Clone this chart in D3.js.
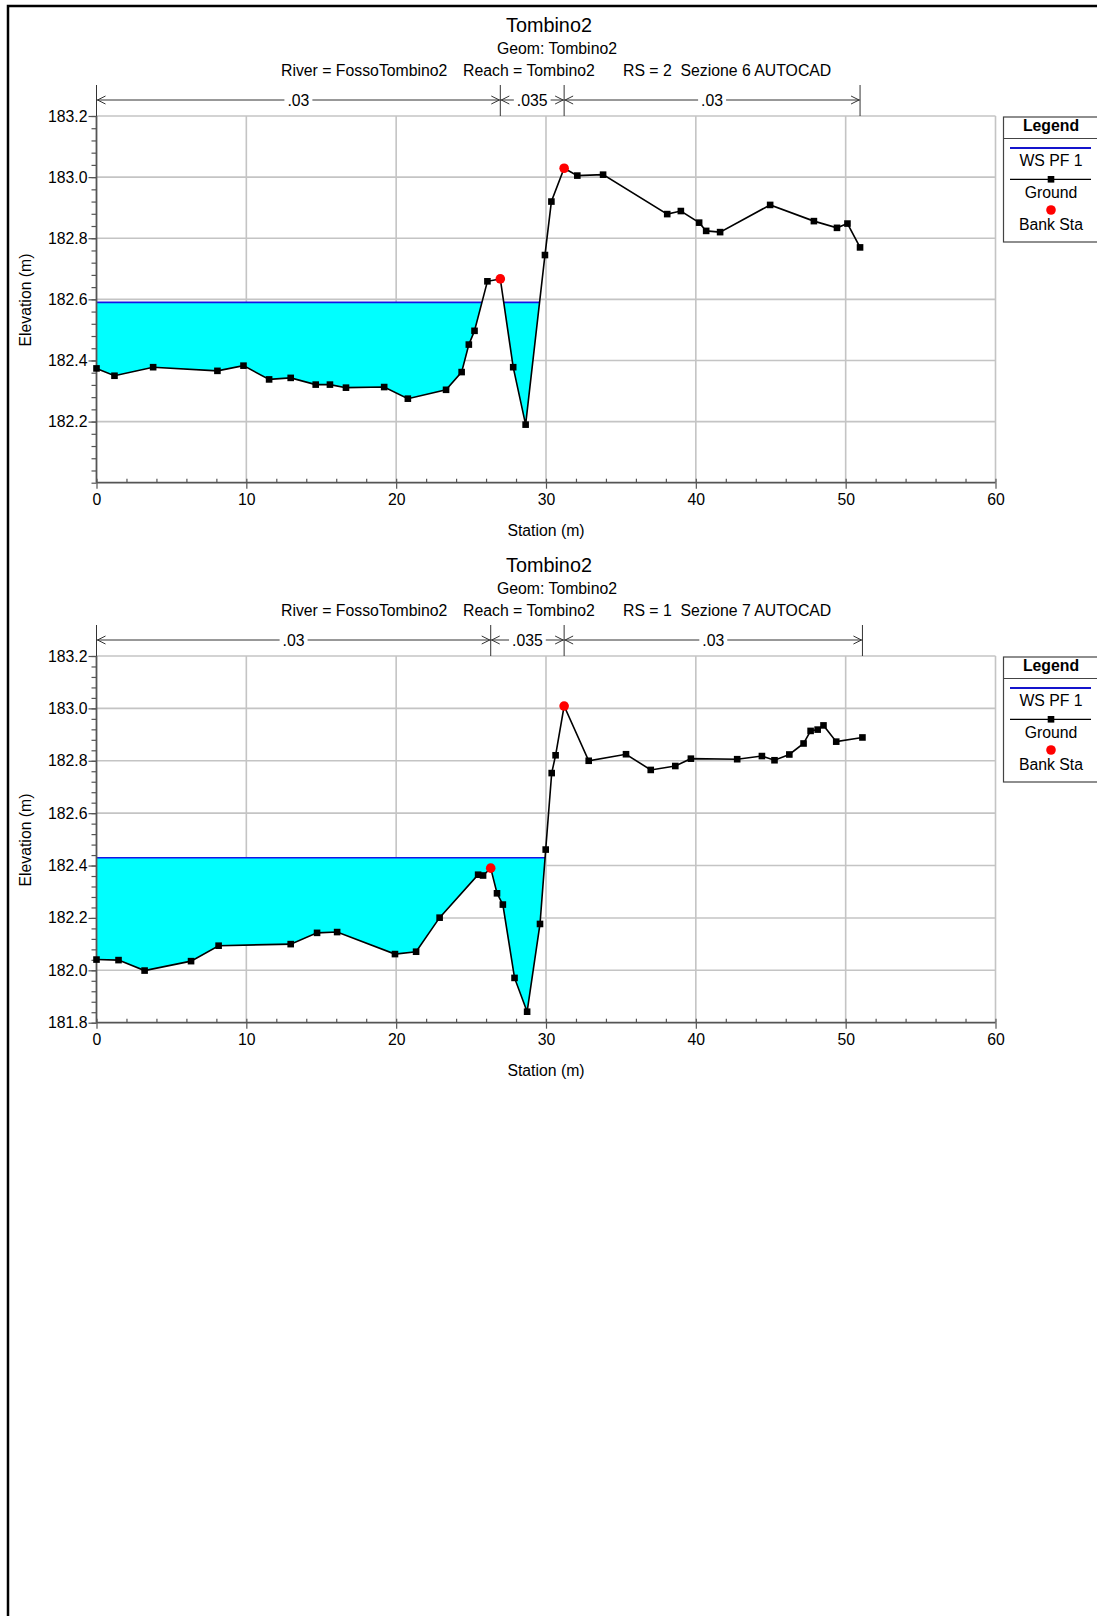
<!DOCTYPE html>
<html>
<head>
<meta charset="utf-8">
<title>Tombino2 cross sections</title>
<script src="https://cdn.jsdelivr.net/npm/d3@7"></script>
<style>
  html, body { margin: 0; padding: 0; background: #fff; }
  svg { display: block; font-family: "Liberation Sans", Arial, sans-serif; }
  svg text { white-space: pre; }
  .tick text { font-family: "Liberation Sans", Arial, sans-serif; }
</style>
</head>
<body>
<svg id="chart" width="1097" height="1616"></svg>
<script>
// ---- Section RS = 2 (Sezione 6) ----
const sec1Station = [0, 1.2, 3.78, 8.07, 9.81, 11.52, 12.96, 14.63, 15.58, 16.65, 19.2, 20.78, 23.33, 24.37, 24.85, 25.23, 26.09, 26.95, 27.81, 28.64, 29.93, 30.36, 31.21, 32.09, 33.81, 38.09, 39.0, 40.22, 40.69, 41.62, 44.96, 47.88, 49.42, 50.12, 50.96];
const sec1Ground  = [182.374, 182.350, 182.378, 182.366, 182.383, 182.338, 182.343, 182.321, 182.321, 182.311, 182.313, 182.275, 182.304, 182.362, 182.452, 182.497, 182.659, 182.667, 182.378, 182.190, 182.745, 182.920, 183.029, 183.005, 183.008, 182.879, 182.889, 182.851, 182.824, 182.820, 182.909, 182.856, 182.834, 182.848, 182.770];
const sec1BankSta  = [26.95, 31.21];
const sec1BankElev = [182.667, 183.029];
const sec1WS = 182.59;
const sec1NBreaks = [0, 26.95, 31.21, 50.96];
const sec1NValues = [".03", ".035", ".03"];
const sec1YTicks = [182.2, 182.4, 182.6, 182.8, 183.0, 183.2];
const sec1YDomain = [182.0, 183.2];
const sec1Title = "Tombino2";
const sec1Geom = "Geom: Tombino2";
const sec1Info = ["River = FossoTombino2", "Reach = Tombino2", "RS = 2  Sezione 6 AUTOCAD"];

// ---- Section RS = 1 (Sezione 7) ----
const sec2Station = [0, 1.47, 3.21, 6.31, 8.15, 12.96, 14.72, 16.06, 19.92, 21.33, 22.9, 25.47, 25.8, 26.31, 26.73, 27.12, 27.9, 28.74, 29.6, 29.98, 30.38, 30.64, 31.21, 32.85, 35.34, 36.99, 38.63, 39.67, 42.76, 44.41, 45.25, 46.24, 47.19, 47.66, 48.13, 48.52, 49.37, 51.12];
const sec2Ground  = [182.041, 182.039, 181.999, 182.035, 182.094, 182.100, 182.143, 182.146, 182.062, 182.071, 182.201, 182.365, 182.362, 182.390, 182.294, 182.251, 181.971, 181.842, 182.177, 182.461, 182.753, 182.821, 183.009, 182.800, 182.825, 182.765, 182.780, 182.808, 182.806, 182.818, 182.802, 182.824, 182.866, 182.914, 182.919, 182.935, 182.873, 182.889];
const sec2BankSta  = [26.31, 31.21];
const sec2BankElev = [182.390, 183.009];
const sec2WS = 182.43;
const sec2NBreaks = [0, 26.31, 31.21, 51.12];
const sec2NValues = [".03", ".035", ".03"];
const sec2YTicks = [181.8, 182.0, 182.2, 182.4, 182.6, 182.8, 183.0, 183.2];
const sec2YDomain = [181.8, 183.2];
const sec2Title = "Tombino2";
const sec2Geom = "Geom: Tombino2";
const sec2Info = ["River = FossoTombino2", "Reach = Tombino2", "RS = 1  Sezione 7 AUTOCAD"];

// shared axis settings
const xTicks = [0, 10, 20, 30, 40, 50, 60];
const xDomain = [0, 60];
const legendLabels = ["WS PF 1", "Ground", "Bank Sta"];

const FONT = "'Liberation Sans', Arial, sans-serif";
const FS = 15.8;
const svg = d3.select("#chart");

// page frame (runs off the right and bottom edges)
svg.append("rect")
  .attr("x", 8).attr("y", 6).attr("width", 1200).attr("height", 1700)
  .attr("fill", "none").attr("stroke", "#000").attr("stroke-width", 2.5);

function range(a, b, step) {
  const out = [];
  const n = Math.round((b - a) / step);
  for (let i = 0; i <= n; i++) out.push(+(a + i * step).toFixed(4));
  return out;
}

function drawSection(offsetY, s) {
  const left = 96.5, right = 995.5, top = 116, bottom = 482.7;
  const g = svg.append("g").attr("transform", `translate(0,${offsetY})`);
  const x = d3.scaleLinear().domain(xDomain).range([left, right]);
  const y = d3.scaleLinear().domain(s.yDomain).range([bottom, top]);

  // titles
  g.append("text").attr("x", 549).attr("y", 32).attr("text-anchor", "middle")
    .attr("font-size", 19.8).attr("fill", "#000").text(s.title);
  g.append("text").attr("x", 557).attr("y", 54).attr("text-anchor", "middle")
    .attr("font-size", FS).attr("fill", "#000").text(s.geom);
  const infoX = [281, 463, 623];
  s.info.forEach((t, i) => {
    g.append("text").attr("x", infoX[i]).attr("y", 76).attr("font-size", FS)
      .attr("fill", "#000").attr("xml:space", "preserve").text(t);
  });

  // grid
  const grid = g.append("g").attr("stroke", "#c4c4c4").attr("stroke-width", 1.6);
  xTicks.filter(v => v > xDomain[0]).forEach(v => {
    grid.append("line").attr("x1", x(v)).attr("x2", x(v)).attr("y1", top).attr("y2", bottom);
  });
  s.yTicks.filter(v => v > s.yDomain[0]).forEach(v => {
    grid.append("line").attr("x1", left).attr("x2", right).attr("y1", y(v)).attr("y2", y(v));
  });

  // water: insert crossings of the water level into the ground profile
  const pts = [];
  for (let i = 0; i < s.station.length; i++) {
    const p = { x: s.station[i], g: s.ground[i] };
    if (i > 0) {
      const q = pts[pts.length - 1];
      if ((q.g - s.ws) * (p.g - s.ws) < 0) {
        const t = (s.ws - q.g) / (p.g - q.g);
        pts.push({ x: q.x + t * (p.x - q.x), g: s.ws });
      }
    }
    pts.push(p);
  }
  const water = d3.area()
    .x(d => x(d.x))
    .y0(d => y(d.g))
    .y1(d => y(Math.max(d.g, s.ws)));
  g.append("path").datum(pts).attr("d", water).attr("fill", "#00ffff").attr("stroke", "none");
  const wsLine = d3.line().defined(d => d.g <= s.ws + 1e-9).x(d => x(d.x)).y(() => y(s.ws));
  g.append("path").datum(pts).attr("d", wsLine).attr("fill", "none")
    .attr("stroke", "#1414e6").attr("stroke-width", 1.6);

  // axes
  const axisColor = "#555";
  const yMajor = d3.axisLeft(y).tickValues(s.yTicks).tickSize(8).tickPadding(1)
    .tickFormat(d3.format(".1f"));
  const yMinor = d3.axisLeft(y).tickValues(range(s.yDomain[0], s.yDomain[1], 0.04))
    .tickSize(5).tickFormat("");
  const xMajor = d3.axisBottom(x).tickValues(xTicks).tickSize(6).tickPadding(5)
    .tickFormat(d3.format("d"));
  const xMinor = d3.axisTop(x).tickValues(range(0, 60, 2)).tickSize(4).tickFormat("");

  const styleAxis = sel => {
    sel.select(".domain").remove();
    sel.selectAll(".tick line").attr("stroke", axisColor).attr("stroke-width", 1.2);
    sel.selectAll(".tick text").attr("fill", "#000").attr("font-size", FS)
      .attr("font-family", FONT);
  };
  g.append("g").attr("transform", `translate(${left},0)`).call(yMinor).call(styleAxis);
  g.append("g").attr("transform", `translate(${left},0)`).call(yMajor).call(styleAxis);
  g.append("g").attr("transform", `translate(0,${bottom})`).call(xMinor).call(styleAxis);
  g.append("g").attr("transform", `translate(0,${bottom})`).call(xMajor).call(styleAxis);
  g.append("line").attr("x1", left).attr("x2", left).attr("y1", top).attr("y2", bottom)
    .attr("stroke", axisColor).attr("stroke-width", 1.8);
  g.append("line").attr("x1", left).attr("x2", right).attr("y1", bottom).attr("y2", bottom)
    .attr("stroke", axisColor).attr("stroke-width", 1.8);

  // axis titles
  g.append("text").attr("transform", `translate(31,300) rotate(-90)`)
    .attr("text-anchor", "middle").attr("font-size", FS).attr("fill", "#000")
    .text("Elevation (m)");
  g.append("text").attr("x", 546).attr("y", 536).attr("text-anchor", "middle")
    .attr("font-size", FS).attr("fill", "#000").text("Station (m)");

  // Manning's n bracket above the plot
  const nY = 100;
  const ng = g.append("g").attr("stroke", "#333").attr("stroke-width", 1).attr("fill", "none");
  s.nBreaks.forEach(v => {
    ng.append("line").attr("x1", x(v)).attr("x2", x(v)).attr("y1", 85).attr("y2", top);
  });
  for (let i = 0; i < s.nValues.length; i++) {
    const a = x(s.nBreaks[i]), b = x(s.nBreaks[i + 1]);
    const mid = (a + b) / 2;
    const label = g.append("text").attr("x", mid).attr("y", nY + 5.5)
      .attr("text-anchor", "middle").attr("font-size", FS).attr("fill", "#000")
      .text(s.nValues[i]);
    const w = label.node().getComputedTextLength();
    ng.append("line").attr("x1", a).attr("x2", mid - w / 2 - 3).attr("y1", nY).attr("y2", nY);
    ng.append("line").attr("x1", mid + w / 2 + 3).attr("x2", b).attr("y1", nY).attr("y2", nY);
    ng.append("path").attr("d", `M${a + 9},${nY - 4}L${a + 1},${nY}L${a + 9},${nY + 4}`);
    ng.append("path").attr("d", `M${b - 9},${nY - 4}L${b - 1},${nY}L${b - 9},${nY + 4}`);
  }

  // ground profile
  const groundLine = d3.line().x((d, i) => x(s.station[i])).y((d, i) => y(s.ground[i]));
  g.append("path").datum(s.ground).attr("d", groundLine).attr("fill", "none")
    .attr("stroke", "#000").attr("stroke-width", 1.6);
  g.append("g").selectAll("rect").data(s.station).join("rect")
    .attr("x", (d) => x(d) - 3.3)
    .attr("y", (d, i) => y(s.ground[i]) - 3.3)
    .attr("width", 6.6).attr("height", 6.6).attr("fill", "#000");

  // bank stations
  g.append("g").selectAll("circle").data(s.bankSta).join("circle")
    .attr("cx", d => x(d)).attr("cy", (d, i) => y(s.bankElev[i]))
    .attr("r", 4.8).attr("fill", "#ff0000");

  // legend
  const lx = 1003.5, lt = 117, lc = 1051;
  const lg = g.append("g");
  lg.append("rect").attr("x", lx).attr("y", lt).attr("width", 120).attr("height", 125)
    .attr("fill", "#fff").attr("stroke", "#444").attr("stroke-width", 1.2);
  lg.append("line").attr("x1", lx).attr("x2", lx + 120).attr("y1", lt + 21.5).attr("y2", lt + 21.5)
    .attr("stroke", "#444").attr("stroke-width", 1.2);
  lg.append("text").attr("x", lc).attr("y", lt + 14).attr("text-anchor", "middle")
    .attr("font-size", FS).attr("font-weight", "bold").attr("fill", "#000").text("Legend");
  lg.append("line").attr("x1", 1010).attr("x2", 1091).attr("y1", lt + 31).attr("y2", lt + 31)
    .attr("stroke", "#1414cc").attr("stroke-width", 2);
  lg.append("text").attr("x", lc).attr("y", lt + 48.5).attr("text-anchor", "middle")
    .attr("font-size", FS).attr("fill", "#000").text(legendLabels[0]);
  lg.append("line").attr("x1", 1010).attr("x2", 1091).attr("y1", lt + 62.3).attr("y2", lt + 62.3)
    .attr("stroke", "#000").attr("stroke-width", 1.3);
  lg.append("rect").attr("x", lc - 3.3).attr("y", lt + 59).attr("width", 6.6).attr("height", 6.6)
    .attr("fill", "#000");
  lg.append("text").attr("x", lc).attr("y", lt + 80.5).attr("text-anchor", "middle")
    .attr("font-size", FS).attr("fill", "#000").text(legendLabels[1]);
  lg.append("circle").attr("cx", lc).attr("cy", lt + 93).attr("r", 4.8).attr("fill", "#ff0000");
  lg.append("text").attr("x", lc).attr("y", lt + 112.5).attr("text-anchor", "middle")
    .attr("font-size", FS).attr("fill", "#000").text(legendLabels[2]);
}

drawSection(0, {
  station: sec1Station, ground: sec1Ground, bankSta: sec1BankSta, bankElev: sec1BankElev,
  ws: sec1WS, nBreaks: sec1NBreaks, nValues: sec1NValues, yTicks: sec1YTicks,
  yDomain: sec1YDomain, title: sec1Title, geom: sec1Geom, info: sec1Info
});
drawSection(540, {
  station: sec2Station, ground: sec2Ground, bankSta: sec2BankSta, bankElev: sec2BankElev,
  ws: sec2WS, nBreaks: sec2NBreaks, nValues: sec2NValues, yTicks: sec2YTicks,
  yDomain: sec2YDomain, title: sec2Title, geom: sec2Geom, info: sec2Info
});
</script>
</body>
</html>
